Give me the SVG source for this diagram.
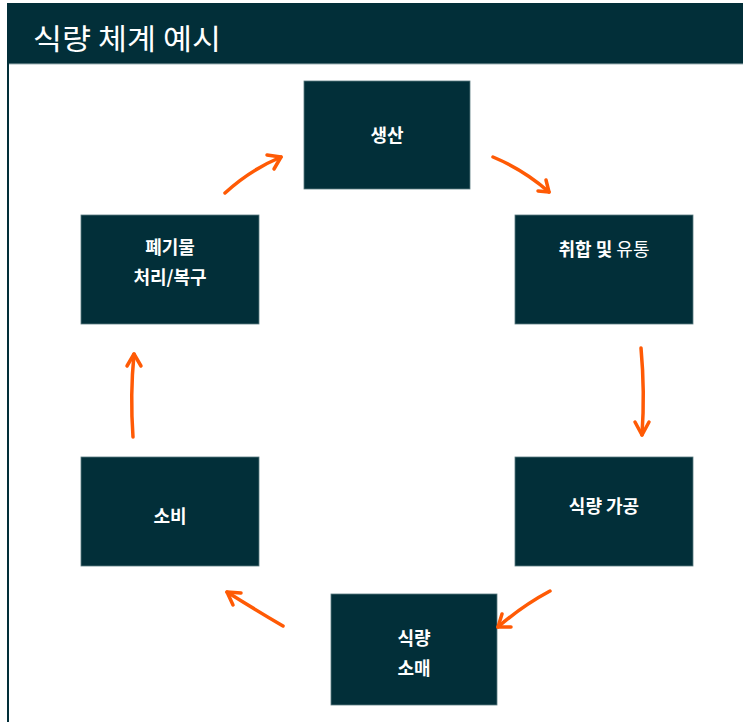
<svg xmlns="http://www.w3.org/2000/svg" width="743" height="725" viewBox="0 0 743 725">
<defs>
<style>
.box{fill:#022f39;stroke:#5a7a80;stroke-width:0.8}
.t{font-family:"Noto Sans CJK KR","Noto Sans",sans-serif;font-size:18px;font-weight:bold;fill:#ffffff;text-anchor:middle}
.n{font-weight:normal}
.title{font-family:"Noto Sans CJK KR","Noto Sans",sans-serif;font-size:29px;fill:#ffffff}
.arr{fill:none;stroke:#ff5a05;stroke-width:3.5;stroke-linecap:round;stroke-linejoin:round}
</style>
</defs>
<rect x="0" y="0" width="743" height="725" fill="#ffffff"/>
<rect x="7" y="3" width="736" height="61" fill="#022f39"/>
<rect x="7" y="3" width="2" height="719" fill="#022f39"/>
<line x1="9" y1="64" x2="743" y2="64" stroke="#9fb3b6" stroke-width="1"/>
<text class="title" x="33" y="50" textLength="188" lengthAdjust="spacingAndGlyphs">식량 체계 예시</text>
<g id="node-production"><rect class="box" x="304" y="81" width="166" height="108"/><text class="t" x="387" y="142">생산</text></g>
<g id="node-aggregation"><rect class="box" x="515" y="215" width="178" height="109"/><text class="t" x="604" y="256">취합 및 <tspan class="n">유통</tspan></text></g>
<g id="node-processing"><rect class="box" x="515" y="457" width="178" height="109"/><text class="t" x="604" y="513">식량 가공</text></g>
<g id="node-retail"><rect class="box" x="331" y="594" width="166" height="111"/><text class="t" x="414" y="645">식량</text><text class="t" x="414" y="675">소매</text></g>
<g id="node-consumption"><rect class="box" x="81" y="457" width="178" height="109"/><text class="t" x="170" y="523">소비</text></g>
<g id="node-waste"><rect class="box" x="81" y="215" width="178" height="109"/><text class="t" x="170" y="254">폐기물</text><text class="t" x="170" y="284">처리/복구</text></g>
<g id="connectors">
<path class="arr" d="M225,193 Q250,170 281,157"/><path class="arr" d="M267,155 L281,157 L274,169"/>
<path class="arr" d="M493,157 Q524,170 549,192"/><path class="arr" d="M538,191 L549,192 L546,180"/>
<path class="arr" d="M641,348 Q645,392 642,435"/><path class="arr" d="M635,422 L642,435 L649,422"/>
<path class="arr" d="M550,591 Q522,606 498,627"/><path class="arr" d="M502,614 L498,627 L511,627"/>
<path class="arr" d="M283,626 Q254,609 227,592"/><path class="arr" d="M241,593 L227,592 L233,605"/>
<path class="arr" d="M133,437 Q130,395 134,354"/><path class="arr" d="M127,366 L134,354 L141,366"/>
</g>
</svg>
